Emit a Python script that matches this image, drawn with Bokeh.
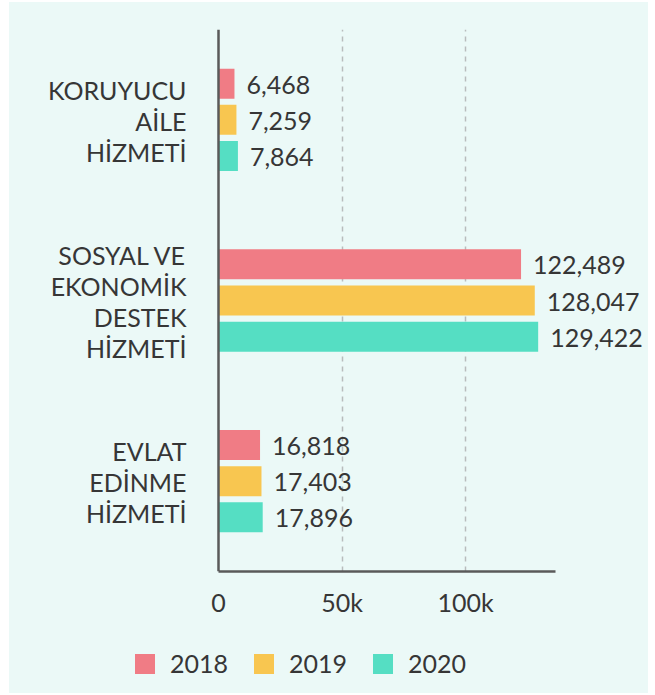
from bokeh.plotting import figure
from bokeh.layouts import column
from bokeh.models import (ColumnDataSource, FactorRange, Range1d, FixedTicker,
                          LabelSet, Legend, LegendItem, Span)
from bokeh.core.properties import value
from bokeh.transform import dodge
from bokeh.embed import file_html
from bokeh.resources import INLINE

# ---- data ----
categories = ["KORUYUCU AİLE HİZMETİ",
              "SOSYAL VE EKONOMİK DESTEK HİZMETİ",
              "EVLAT EDİNME HİZMETİ"]
category_labels = ["KORUYUCU\nAİLE\nHİZMETİ",
                   "SOSYAL VE\nEKONOMİK\nDESTEK\nHİZMETİ",
                   "EVLAT\nEDİNME\nHİZMETİ"]
years = ["2018", "2019", "2020"]
v2018 = [6468, 122489, 16818]
v2019 = [7259, 128047, 17403]
v2020 = [7864, 129422, 17896]
x_ticks = [0, 50000, 100000]
x_tick_labels = ["0", "50k", "100k"]
x_axis_end = 136400

series = [v2018, v2019, v2020]
colors = ["#f07c85", "#f8c650", "#55dec3"]
offsets = [0.2, 0.0, -0.2]

BG = "#ebf9f7"
TXT = "#363636"
AXIS = "#5a5a5a"
FONT = "Lato"
FS = "25px"
LINE_PITCH = 31

y_range = FactorRange(factors=list(reversed(categories)), range_padding=0)
# frame spans whole width; 0 sits 209px from the left, 123.5px per 50k
px_per_unit = 123.5 / 50000
x_range = Range1d(-209 / px_per_unit, 430 / px_per_unit)

p = figure(width=639, height=634, output_backend="svg",
           toolbar_location=None,
           y_range=y_range, x_range=x_range, y_axis_location=None,
           min_border_left=0, min_border_right=0,
           min_border_top=27, min_border_bottom=65,
           background_fill_color=BG, border_fill_color=BG,
           outline_line_color=None, margin=0)

for yr, vals, col, off in zip(years, series, colors, offsets):
    src = ColumnDataSource(dict(cat=categories, val=vals,
                                txt=[f"{v:,}" for v in vals]))
    p.hbar(y=dodge("cat", off, range=y_range), right="val", left=0,
           height=0.166, source=src, fill_color=col, line_color=None)
    lbl = LabelSet(x="val", y=dodge("cat", off, range=y_range), text="txt",
                   source=src, x_offset=12, y_offset=-1,
                   text_baseline="middle", text_align="left",
                   text_font=value(FONT), text_font_size=value(FS),
                   text_color=TXT)
    p.add_layout(lbl)

# category labels (one row per text line, right-aligned left of the y axis)
cat_col, line_col, yoff_col = [], [], []
for cat, lab in zip(categories, category_labels):
    lines = lab.split("\n")
    n = len(lines)
    for i, ln in enumerate(lines):
        cat_col.append(cat)
        line_col.append(ln)
        yoff_col.append(((n - 1) / 2 - i) * LINE_PITCH - 1)
cat_src = ColumnDataSource(dict(cat=cat_col, txt=line_col, yoff=yoff_col,
                                x=[0] * len(cat_col)))
p.add_layout(LabelSet(x="x", y="cat", text="txt", source=cat_src,
                      x_offset=-32, y_offset="yoff",
                      text_align="right", text_baseline="middle",
                      text_font=value(FONT), text_font_size=value(FS),
                      text_color=TXT))

# y axis line at zero
p.add_layout(Span(location=0, dimension="height", line_color=AXIS,
                  line_width=2.5))

# x axis
p.xaxis.bounds = (0, x_axis_end)
p.xaxis.ticker = FixedTicker(ticks=x_ticks)
p.xaxis.major_label_overrides = {t: l for t, l in zip(x_ticks, x_tick_labels)}
p.xaxis.major_label_text_font = FONT
p.xaxis.major_label_text_font_size = FS
p.xaxis.major_label_text_color = TXT
p.xaxis.major_label_standoff = 15
p.xaxis.major_tick_line_color = None
p.xaxis.major_tick_out = 0
p.xaxis.major_tick_in = 0
p.xaxis.minor_tick_line_color = None
p.xaxis.minor_tick_out = 0
p.xaxis.axis_line_color = AXIS
p.xaxis.axis_line_width = 2.5

# grids
p.ygrid.grid_line_color = None
p.xgrid.ticker = FixedTicker(ticks=x_ticks[1:])
p.xgrid.grid_line_color = "#b8bcbc"
p.xgrid.grid_line_dash = "5 5"
p.xgrid.grid_line_width = 1.5

# ---- legend strip below the chart ----
lg = figure(width=639, height=57, output_backend="svg", toolbar_location=None,
            x_axis_location=None, y_axis_location=None,
            x_range=Range1d(0, 1), y_range=Range1d(0, 1),
            min_border=0, background_fill_color=BG, border_fill_color=BG,
            outline_line_color=None, margin=0)
lg.grid.visible = False
legend_items = []
for yr, col in zip(years, colors):
    # invisible (zero-size, off-range) swatch carrier for the legend entry
    rr = lg.hbar(y=[-1], left=[0], right=[0], height=0,
                 fill_color=col, line_color=None)
    legend_items.append(LegendItem(label=yr, renderers=[rr]))

legend = Legend(items=legend_items, orientation="horizontal",
                location=(123, 15), glyph_width=25, glyph_height=25,
                label_height=25, label_standoff=13, spacing=23,
                padding=0, margin=0, border_line_color=None,
                background_fill_alpha=0,
                label_text_font=FONT, label_text_font_size=FS,
                label_text_color=TXT, label_text_baseline="middle")
lg.add_layout(legend, "center")

layout = column(p, lg, spacing=0, margin=(2, 7, 2, 9),
                styles={"background-color": BG})
open("out.html", "w").write(file_html(layout, INLINE))
